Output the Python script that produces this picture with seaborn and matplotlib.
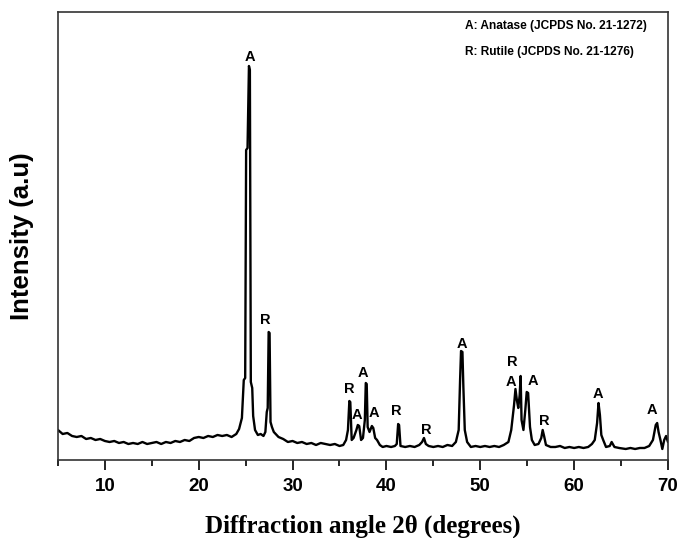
import pandas as pd
import numpy as np
import matplotlib
matplotlib.use('Agg')
import matplotlib.pyplot as plt
import seaborn as sns

# XRD pattern (2theta in degrees, intensity in a.u.)
two_theta = [
    5.0, 5.5, 6.0, 6.5, 7.0, 7.5, 8.0, 8.5, 9.0, 9.5,
    10.0, 10.5, 11.0, 11.5, 12.0, 12.5, 13.0, 13.5, 14.0, 14.5,
    15.0, 15.5, 16.0, 16.5, 17.0, 17.5, 18.0, 18.5, 19.0, 19.5,
    20.0, 20.5, 21.0, 21.5, 22.0, 22.5, 23.0, 23.5, 24.0, 24.3,
    24.6, 24.8, 24.95, 25.05, 25.2, 25.35, 25.45, 25.55, 25.7, 25.8,
    26.0, 26.3, 26.6, 26.9, 27.1, 27.25, 27.35, 27.45, 27.55, 27.65,
    27.8, 28.0, 28.5, 29.0, 29.5, 30.0, 30.5, 31.0, 31.5, 32.0,
    32.5, 33.0, 33.5, 34.0, 34.5, 35.0, 35.4, 35.7, 35.9, 36.05,
    36.15, 36.3, 36.5, 36.8, 36.95, 37.1, 37.3, 37.5, 37.7, 37.8,
    37.9, 38.0, 38.2, 38.45, 38.6, 38.8, 39.0, 39.3, 39.6, 40.0,
    40.5, 40.9, 41.1, 41.25, 41.35, 41.5, 42.0, 42.5, 43.0, 43.5,
    43.8, 44.0, 44.2, 44.5, 45.0, 45.5, 46.0, 46.5, 47.0, 47.4,
    47.7, 47.85, 47.95, 48.1, 48.2, 48.35, 48.6, 49.0, 49.5, 50.0,
    50.5, 51.0, 51.5, 52.0, 52.5, 53.0, 53.3, 53.6, 53.75, 53.9,
    54.05, 54.2, 54.3, 54.4, 54.6, 54.8, 54.95, 55.1, 55.3, 55.5,
    55.8, 56.2, 56.5, 56.65, 56.8, 57.0, 57.5, 58.0, 58.5, 59.0,
    59.5, 60.0, 60.5, 61.0, 61.5, 61.9, 62.2, 62.45, 62.6, 62.75,
    62.9, 63.1, 63.4, 63.8, 64.0, 64.3, 64.8, 65.5, 66.0, 66.5,
    67.0, 67.5, 68.0, 68.4, 68.7, 68.85, 69.0, 69.2, 69.4, 69.6,
    69.8, 70.0,
]
intensity = [
    30, 26, 27, 24, 23, 24, 21, 22, 20, 21,
    19, 18, 19, 17, 18, 16, 17, 16, 18, 16,
    17, 18, 16, 18, 17, 19, 18, 20, 19, 22,
    23, 22, 24, 23, 25, 24, 25, 23, 26, 31,
    42, 80, 82, 310, 312, 394, 390, 78, 72, 44,
    30, 25, 26, 24, 28, 48, 52, 128, 127, 38,
    33, 28, 23, 21, 18, 19, 17, 18, 16, 17,
    15, 17, 16, 15, 16, 14, 15, 20, 30, 59,
    58, 20, 22, 30, 35, 34, 20, 22, 40, 77,
    76, 33, 28, 34, 32, 22, 20, 15, 13, 14,
    13, 14, 16, 36, 35, 14, 13, 14, 13, 15,
    18, 22, 16, 14, 13, 14, 13, 15, 14, 18,
    30, 80, 109, 108, 73, 30, 18, 13, 14, 13,
    14, 13, 14, 13, 15, 18, 30, 55, 71, 60,
    52, 65, 84, 40, 30, 50, 68, 67, 33, 20,
    15, 16, 22, 30, 24, 15, 13, 13, 14, 12,
    13, 12, 13, 12, 13, 16, 20, 37, 57, 45,
    25, 20, 13, 14, 18, 13, 12, 11, 12, 11,
    12, 12, 14, 20, 35, 37, 28, 20, 11, 20,
    24, 18,
]

# phase labels above the peaks
peak_labels = ['A', 'R', 'R', 'A', 'A', 'A', 'R', 'R', 'A', 'R', 'A', 'A', 'R', 'A', 'A']
label_x = [25.45, 27.05, 36.0, 36.85, 37.5, 38.65, 41.0, 44.2, 48.05, 53.4, 53.3, 55.6, 56.8, 62.5, 68.3]
label_y = [403, 140, 71, 45, 87, 47, 49, 30, 116, 98, 78, 79, 39, 66, 50]

phase_notes = ['A: Anatase (JCPDS No. 21-1272)', 'R: Rutile (JCPDS No. 21-1276)']

df = pd.DataFrame({'two_theta': two_theta, 'intensity': intensity})

sns.set_style('white')
plt.rcParams['font.family'] = ['Liberation Sans', 'DejaVu Sans']
plt.rcParams['text.color'] = 'black'
plt.rcParams['axes.labelcolor'] = 'black'
plt.rcParams['xtick.color'] = 'black'

fig = plt.figure(figsize=(6.82, 5.38), dpi=100)
ax = fig.add_axes([0.0850, 0.1450, 0.8944, 0.8327])

sns.lineplot(data=df, x='two_theta', y='intensity', estimator=None,
             color='black', linewidth=1.7, ax=ax)

for lab, lx, ly in zip(peak_labels, label_x, label_y):
    ax.text(lx, ly, lab, ha='center', va='center', fontsize=10.5,
            fontweight='bold', color='black')

ax.text(0.668, 0.968, phase_notes[0], transform=ax.transAxes,
        ha='left', va='center', fontsize=8.6, fontweight='bold', color='black')
ax.text(0.668, 0.911, phase_notes[1], transform=ax.transAxes,
        ha='left', va='center', fontsize=8.6, fontweight='bold', color='black')

ax.set_xlim(5, 70)
ax.set_ylim(0, 448)
ax.set_xticks([10, 20, 30, 40, 50, 60, 70])
ax.set_xticks(np.arange(5, 71, 5), minor=True)
ax.set_yticks([])
ax.tick_params(axis='x', which='major', direction='out', length=7, width=1.2,
               labelsize=13.5, pad=6, bottom=True, colors='black')
ax.tick_params(axis='x', which='minor', direction='out', length=4, width=1.2,
               bottom=True, colors='black')
for t in ax.get_xticklabels():
    t.set_fontweight('bold')

for sp in ax.spines.values():
    sp.set_color('#333333')
    sp.set_linewidth(1.2)

ax.set_xlabel('Diffraction angle 2θ (degrees)', fontsize=18, fontweight='bold',
              family=['Liberation Serif', 'DejaVu Serif'], labelpad=14)
ax.set_ylabel('Intensity (a.u)', fontsize=18.5, fontweight='bold', labelpad=17)

plt.savefig('out.png', dpi=100)
